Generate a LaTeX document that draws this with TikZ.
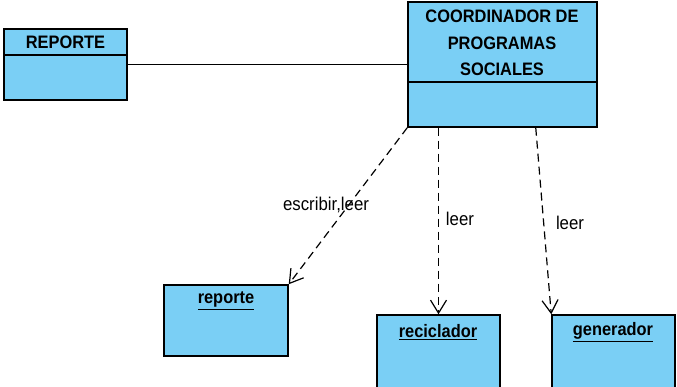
\documentclass[tikz,border=0pt]{standalone}
\usepackage{fontspec}
\setmainfont{Liberation Sans}
\usetikzlibrary{arrows.meta,calc}
\definecolor{classfill}{RGB}{122,207,245}
\newcommand{\tallbox}[1]{\scalebox{1}[1.1]{#1}}
\tikzset{
  classbox/.style={draw=black, fill=classfill, line width=1.5pt, inner sep=0pt},
  divider/.style={draw=black, line width=1.5pt},
  title/.style={font=\bfseries\fontsize{16.4}{26}\selectfont, inner sep=0pt, align=center},
  objname/.style={font=\bfseries\fontsize{16.4}{18}\selectfont, inner sep=0pt},
  lbl/.style={font=\fontsize{16.8}{18}\selectfont, inner sep=0pt},
  assoc/.style={draw=black, line width=1.3pt},
  dep/.style={draw=black, line width=1.2pt, dash pattern=on 8pt off 5pt,
              -{Straight Barb[length=13pt,width=16pt,line width=1.2pt]}},
}
\begin{document}
\begin{tikzpicture}[x=1pt,y=-1pt]
\useasboundingbox (0,0) rectangle (677,387);

% classes
\node[classbox, minimum width=123pt, minimum height=71pt] (rep) at (65.5,64.5) {};
\draw[divider] (rep.west |- 0,55) -- (rep.east |- 0,55);
\node[title] (repT) at (65.5,42) {\tallbox{REPORTE}};

\node[classbox, minimum width=189pt, minimum height=125pt] (coord) at (502.5,64.5) {};
\draw[divider] (coord.west |- 0,82) -- (coord.east |- 0,82);
\node[title] (coordT1) at (502,16) {\tallbox{COORDINADOR DE}};
\node[title] (coordT2) at (502,43) {\tallbox{PROGRAMAS}};
\node[title] (coordT3) at (502,69) {\tallbox{SOCIALES}};

% objects
\node[classbox, minimum width=124pt, minimum height=71pt] (robj) at (226,320.5) {};
\node[objname] (robjT) at (226,301) {\tallbox{\underline{reporte}}};

\node[classbox, minimum width=123pt, minimum height=80pt] (recic) at (438.5,355) {};
\node[objname] (recicT) at (438,332) {\tallbox{\underline{reciclador}}};

\node[classbox, minimum width=123pt, minimum height=80pt] (gen) at (613.5,355) {};
\node[objname] (genT) at (613,332) {\tallbox{\underline{generador}}};

% association
\draw[assoc] (rep.east) -- (coord.west);

% dependencies
\coordinate (d3) at ($(coord.south east)+(-62,0)$);
\draw[dep] (coord.south west) -- (robj.north east);
\draw[dep] (recic.north |- coord.south) -- (recic.north);
\draw[dep] (d3) -- (gen.north west);

% dependency labels
\node[lbl] (l1) at (326,205) {\tallbox{escribir,leer}};
\node[lbl] (l2) at (460,219) {\tallbox{leer}};
\node[lbl] (l3) at (570,223) {\tallbox{leer}};
\end{tikzpicture}
\end{document}
